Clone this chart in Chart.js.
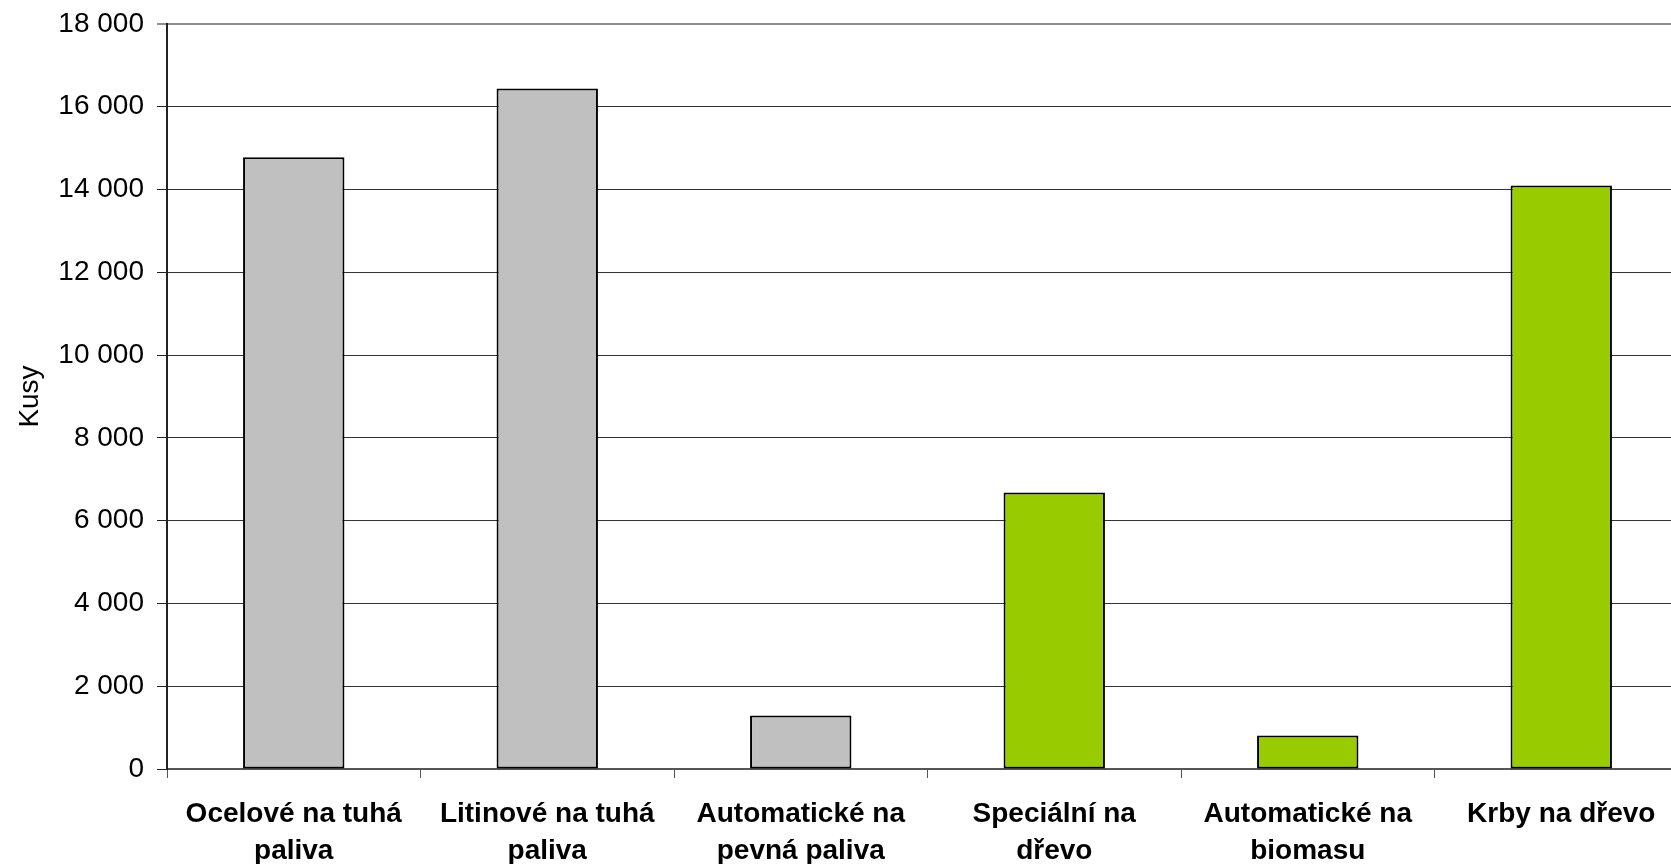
<!DOCTYPE html>
<html lang="cs">
<head>
<meta charset="utf-8">
<title>Kusy podle druhu kotle</title>
<script src="https://cdn.jsdelivr.net/npm/chart.js@4/dist/chart.umd.min.js"></script>
<style>
  html, body { margin: 0; padding: 0; background: #ffffff; overflow: hidden; }
  #wrap { position: absolute; left: 0; top: 0; width: 1700px; height: 864px; }
  canvas { display: block; }
</style>
</head>
<body>
<div id="wrap"><canvas id="chart" width="1700" height="864"></canvas></div>
<script>
// Categories (two-line labels) and counts in pieces
const categories = [
  ['Ocelové na tuhá', 'paliva'],
  ['Litinové na tuhá', 'paliva'],
  ['Automatické na', 'pevná paliva'],
  ['Speciální na', 'dřevo'],
  ['Automatické na', 'biomasu'],
  ['Krby na dřevo']
];
const counts = [14780, 16440, 1290, 6680, 810, 14100];
const yMin = 0;
const yMax = 18000;
const yStep = 2000;
const yTitle = 'Kusy';

// Fuel groups: solid fuel in grey, wood / biomass in green
const barColors = ['#C0C0C0', '#C0C0C0', '#C0C0C0', '#99CC00', '#99CC00', '#99CC00'];

const FONT = '"Liberation Sans", Arial, Helvetica, sans-serif';

function spaced(v) {
  return String(v).replace(/\B(?=(\d{3})+(?!\d))/g, ' ');
}

new Chart(document.getElementById('chart'), {
  type: 'bar',
  data: {
    labels: categories,
    datasets: [{
      data: counts,
      backgroundColor: barColors,
      borderColor: '#000000',
      borderWidth: 2,
      borderSkipped: false,
      categoryPercentage: 1,
      barPercentage: 0.4
    }]
  },
  options: {
    responsive: false,
    animation: false,
    devicePixelRatio: 1,
    layout: { padding: { left: 0, right: 12, top: 24, bottom: 0 } },
    plugins: {
      legend: { display: false },
      tooltip: { enabled: false }
    },
    scales: {
      x: {
        offset: true,
        afterFit: (s) => { s.height = 95; },
        grid: {
          offset: true,
          drawOnChartArea: false,
          drawTicks: true,
          tickLength: 9,
          tickColor: '#555555',
          tickWidth: 1
        },
        border: { display: true, color: '#555555', width: 2 },
        ticks: {
          color: '#000000',
          padding: 18,
          maxRotation: 0,
          autoSkip: false,
          font: { family: FONT, size: 28, weight: 'bold', lineHeight: 1.31 }
        }
      },
      y: {
        min: yMin,
        max: yMax,
        afterFit: (s) => {
          s.width = 167;
          // tick labels may overhang the plot area; keep the plot height fixed
          s.paddingTop = 0;
          s.paddingBottom = 0;
        },
        grid: {
          color: (ctx) => (ctx.tick && ctx.tick.value === yMax ? '#8c8c8c' : '#333333'),
          lineWidth: (ctx) => (ctx.tick && ctx.tick.value === yMax ? 2 : 1),
          drawTicks: true,
          tickLength: 10,
          tickColor: '#222222',
          tickWidth: 1
        },
        border: { display: true, color: '#222222', width: 2 },
        ticks: {
          stepSize: yStep,
          color: '#000000',
          padding: 13,
          font: { family: FONT, size: 28 },
          callback: (v) => spaced(v)
        },
        title: {
          display: true,
          text: yTitle,
          color: '#000000',
          padding: { top: 13, bottom: 0 },
          font: { family: FONT, size: 28 }
        }
      }
    }
  }
});
</script>
</body>
</html>
